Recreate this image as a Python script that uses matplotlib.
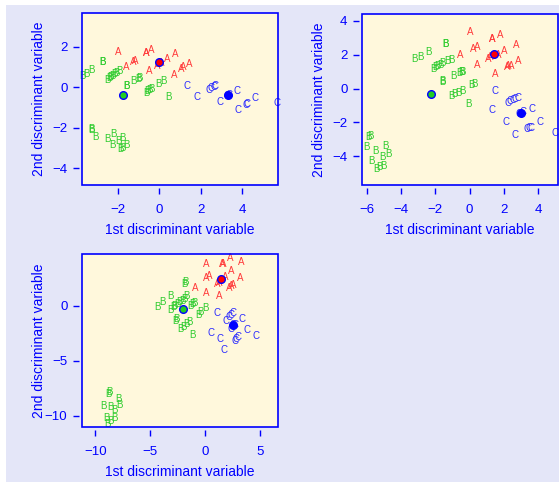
import matplotlib
matplotlib.use("Agg")
import matplotlib.pyplot as plt
from matplotlib.patches import Rectangle

# group colours
col_a = "#ff3a3a"
col_b = "#2fcc2f"
col_c = "#2a2aff"
axis_col = "#0000ff"

# panel 1 scores (x, y)
p1_a = [(-1.97, 1.72), (-0.63, 1.71), (-0.38, 1.84), (-1.18, 1.27), (-1.28, 1.24),
        (-1.63, 1.01), (-0.48, 0.81), (-0.10, 1.06), (0.07, 1.19), (0.40, 1.38),
        (0.77, 1.64), (0.70, 0.62), (1.07, 0.91), (1.15, 0.98), (1.43, 1.15),
        (-0.63, 1.71)]
p1_b = [(-3.73, 0.54), (-3.53, 0.67), (-3.28, 0.83), (-2.77, 1.22), (-2.75, 1.24),
        (-2.53, 0.37), (-2.43, 0.44), (-2.35, 0.50), (-2.27, 0.57), (-2.18, 0.63),
        (-2.10, 0.70), (-1.93, 0.78), (-1.60, 0.05), (-1.58, 0.07), (-1.27, 0.29),
        (-1.03, 0.41), (-0.97, 0.47), (-0.65, -0.28), (-0.57, -0.20), (-0.48, -0.15),
        (-0.37, -0.11), (-0.03, 0.18), (0.20, 0.29), (0.43, -0.49),
        (-3.30, -2.07), (-3.28, -2.10), (-3.10, -2.46), (-2.50, -2.55), (-2.22, -2.29),
        (-2.28, -2.85), (-1.98, -2.65), (-1.78, -2.49), (-1.87, -3.07), (-1.77, -2.98),
        (-1.62, -2.88)]
p1_c = [(1.32, 0.08), (1.83, -0.50), (2.40, -0.15), (2.52, -0.05), (2.63, 0.02),
        (2.68, 0.05), (2.93, -0.72), (3.27, -0.45), (3.37, -0.37), (3.77, -0.20),
        (3.80, -1.12), (4.18, -0.89), (4.27, -0.83), (4.63, -0.55), (5.68, -0.76)]
p1_mean = {"A": (0.00, 1.24), "B": (-1.77, -0.41), "C": (3.32, -0.41)}

# panel 2 scores
p2_a = [(0.04, 3.37), (1.33, 2.94), (1.34, 2.96), (1.78, 3.18), (2.73, 2.59),
        (0.20, 2.35), (0.43, 2.45), (-0.52, 2.00), (0.43, 1.41), (1.11, 1.76),
        (1.21, 1.84), (1.70, 2.00), (2.05, 2.25), (1.50, 0.88), (2.19, 1.25),
        (2.28, 1.31), (2.42, 1.35), (2.87, 1.61)]
p2_b = [(-3.21, 1.75), (-2.86, 1.88), (-2.39, 2.14), (-1.42, 2.63), (-1.40, 2.66),
        (-2.14, 1.18), (-2.00, 1.25), (-1.87, 1.33), (-1.73, 1.41), (-1.60, 1.49),
        (-1.32, 1.61), (-1.07, 1.71), (-1.61, 0.39), (-1.58, 0.42), (-0.95, 0.75),
        (-0.58, 0.90), (-0.50, 0.96), (-0.41, 1.00), (-1.07, -0.41), (-0.91, -0.33),
        (-0.68, -0.24), (-0.44, -0.12), (0.10, 0.20), (0.26, 0.27), (-0.09, -0.94),
        (-5.90, -2.84), (-5.79, -2.80), (-6.06, -3.45), (-5.51, -3.69), (-4.93, -3.39),
        (-5.71, -4.27), (-5.12, -4.04), (-4.77, -3.88), (-5.47, -4.73), (-5.28, -4.63),
        (-5.03, -4.57)]
p2_c = [(1.50, -0.12), (1.31, -1.29), (2.23, -0.84), (2.38, -0.75), (2.52, -0.69),
        (2.67, -0.61), (2.83, -0.55), (2.15, -1.96), (2.64, -2.75), (2.90, -1.50),
        (3.10, -1.40), (3.65, -1.18), (3.36, -2.41), (3.49, -2.35), (3.61, -2.31),
        (4.14, -1.98), (4.97, -2.63)]
p2_mean = {"A": (1.45, 2.04), "B": (-2.28, -0.31), "C": (3.03, -1.45)}

# panel 3 scores
p3_a = [(0.12, 3.78), (1.58, 3.78), (1.60, 3.80), (2.24, 4.32), (3.27, 4.02),
        (2.33, 3.17), (0.06, 2.48), (0.33, 2.72), (-0.94, 1.60), (0.09, 1.12),
        (1.24, 0.88), (1.09, 1.96), (1.24, 2.08), (1.85, 2.63), (2.21, 1.66),
        (2.36, 1.78), (2.55, 1.90), (3.21, 2.51)]
p3_b = [(-1.94, 1.96), (-1.79, 2.14), (-3.21, 0.88), (-3.91, 0.30), (-4.36, -0.09),
        (-1.73, 0.85), (-3.15, -0.36), (-2.94, -0.15), (-2.76, 0.00), (-2.55, 0.15),
        (-2.33, 0.30), (-2.09, 0.45), (-1.94, 0.60), (-1.33, 0.00), (-1.18, 0.15),
        (-1.03, 0.21), (-2.70, -1.36), (-2.64, -1.21), (-2.24, -2.11), (-2.03, -1.90),
        (-1.73, -1.66), (-1.42, -1.51), (-0.58, -0.82), (-0.42, -0.60), (-0.03, -0.21),
        (-1.18, -2.63),
        (-8.76, -8.00), (-8.70, -7.82), (-7.85, -8.46), (-7.76, -8.97), (-9.24, -9.06),
        (-8.60, -9.21), (-8.24, -9.46), (-9.00, -10.18), (-8.60, -10.42), (-8.24, -10.18),
        (-8.90, -10.72)]
p3_c = [(1.03, -0.66), (2.15, -1.06), (2.33, -0.88), (2.52, -0.69), (1.85, -1.36),
        (0.48, -2.48), (1.33, -3.02), (1.70, -3.99), (2.30, -2.11), (2.55, -1.72),
        (2.70, -1.70), (3.36, -1.21), (3.79, -2.18), (4.64, -2.72), (2.70, -3.23),
        (2.82, -3.05), (2.97, -2.87)]
p3_mean = {"A": (1.39, 2.39), "B": (-2.00, -0.30), "C": (2.55, -1.72)}

panels = [
    dict(a=p1_a, b=p1_b, c=p1_c, mean=p1_mean, xlim=(-3.75, 5.75), ylim=(-4.83, 3.66),
         xt=[-2, 0, 2, 4], yt=[-4, -2, 0, 2], pos=[0.1467, 0.6162, 0.3506, 0.3568]),
    dict(a=p2_a, b=p2_b, c=p2_c, mean=p2_mean, xlim=(-6.29, 5.17), ylim=(-5.7, 4.41),
         xt=[-6, -4, -2, 0, 2, 4], yt=[-4, -2, 0, 2, 4], pos=[0.6476, 0.6162, 0.3506, 0.3547]),
    dict(a=p3_a, b=p3_b, c=p3_c, mean=p3_mean, xlim=(-11.2, 6.6), ylim=(-11.0, 4.7),
         xt=[-10, -5, 0, 5], yt=[-10, -5, 0], pos=[0.1467, 0.1141, 0.3506, 0.3589]),
]

plt.rcParams['font.family'] = ['Liberation Sans', 'DejaVu Sans']
fig = plt.figure(figsize=(5.59, 4.82), dpi=100, facecolor="white")
fig.patches.append(Rectangle((6 / 559, 0), 1, 1 - 5 / 482, transform=fig.transFigure,
                             facecolor="#e4e6f8", edgecolor="none", zorder=-10))

for p in panels:
    ax = fig.add_axes(p["pos"])
    ax.set_facecolor("#fff8dc")
    for pts, lab, col in [(p["a"], "A", col_a), (p["b"], "B", col_b), (p["c"], "C", col_c)]:
        for x, y in pts:
            ax.text(x, y, lab, color=col, fontsize=7, ha="center", va="center")
    for lab, col in [("A", "#ff0000"), ("B", "#22cc22"), ("C", "#0000ff")]:
        mx, my = p["mean"][lab]
        ax.plot(mx, my, "o", ms=5.5, mfc=col, mec=axis_col, mew=1.0, zorder=5)
    ax.set_xlim(*p["xlim"])
    ax.set_ylim(*p["ylim"])
    ax.set_xticks(p["xt"])
    ax.set_yticks(p["yt"])
    ax.set_xticklabels([str(v).replace("-", "\u2212") for v in p["xt"]])
    ax.set_yticklabels([str(v).replace("-", "\u2212") for v in p["yt"]])
    # R-style: ticks detached from the box
    for side in ["left", "bottom"]:
        ax.spines[side].set_position(("outward", 2.5))
    for s in ax.spines.values():
        s.set_visible(False)
    ax.add_patch(Rectangle((0, 0), 1, 1, transform=ax.transAxes, fill=False,
                           edgecolor=axis_col, lw=1.2, clip_on=False, zorder=6))
    ax.tick_params(colors=axis_col, labelcolor=axis_col, length=4.5, width=1,
                   labelsize=9.5)
    ax.tick_params(axis="x", pad=6.5)
    ax.tick_params(axis="y", pad=3.5)
    ax.set_xlabel("1st discriminant variable", color=axis_col, fontsize=10, labelpad=5)
    ax.set_ylabel("2nd discriminant variable", color=axis_col, fontsize=10)
    # fixed margin line, as in the reference (label may overlap long tick labels)
    ax.yaxis.set_label_coords(-0.185, 0.5)

fig.savefig("out.png", dpi=100, facecolor=fig.get_facecolor())
